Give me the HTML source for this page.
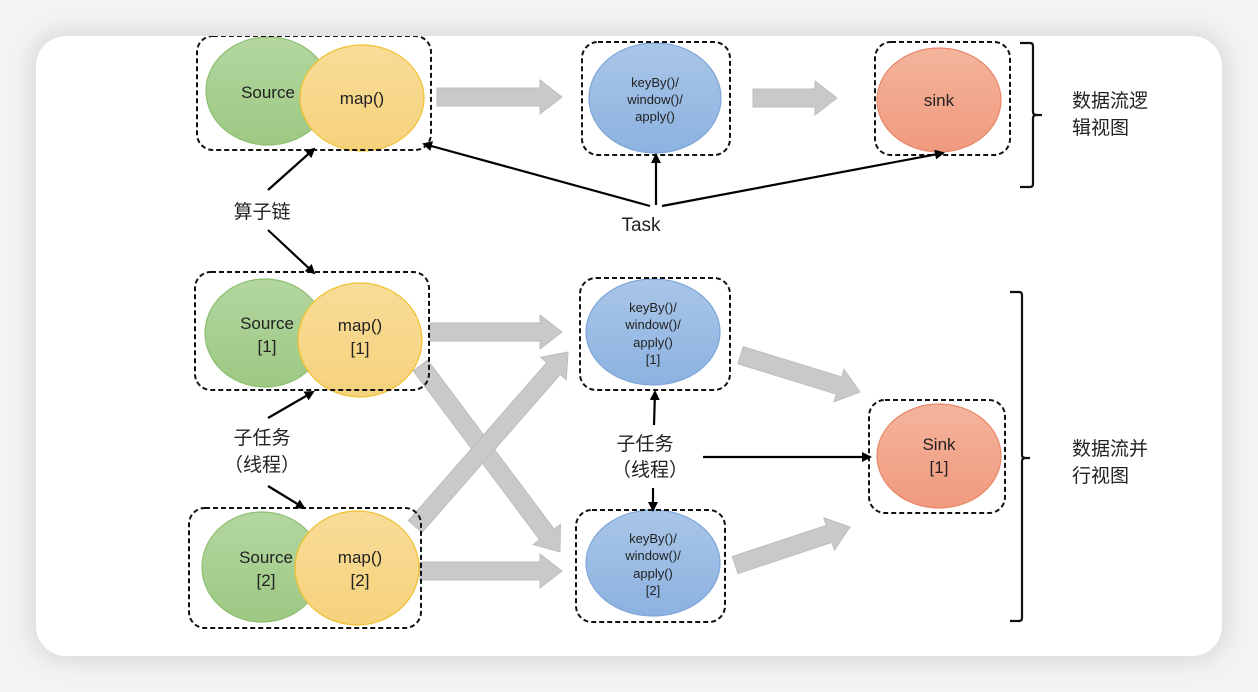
<!DOCTYPE html>
<html><head><meta charset="utf-8"><style>
html,body{margin:0;padding:0;width:1258px;height:692px;overflow:hidden;background:#f3f3f3;}
.card{position:absolute;left:36px;top:36px;width:1186px;height:620px;background:#fff;border-radius:30px;box-shadow:0 0 22px 6px rgba(0,0,0,0.10);}
svg{position:absolute;left:0;top:0;}
text{font-family:"Liberation Sans","Noto Sans CJK SC",sans-serif;fill:#222;}
</style></head><body>
<div class="card"></div>
<svg width="1258" height="692" viewBox="0 0 1258 692">
<defs>
<clipPath id="cc"><rect x="36" y="36" width="1186" height="620" rx="30"/></clipPath>
<linearGradient id="g" x1="0" y1="0" x2="0" y2="1"><stop offset="0" stop-color="#b3d7a0"/><stop offset="1" stop-color="#9dc883"/></linearGradient>
<linearGradient id="y" x1="0" y1="0" x2="0" y2="1"><stop offset="0" stop-color="#f8dc98"/><stop offset="1" stop-color="#f6d27c"/></linearGradient>
<linearGradient id="b" x1="0" y1="0" x2="0" y2="1"><stop offset="0" stop-color="#a9c6e8"/><stop offset="1" stop-color="#8cb2e0"/></linearGradient>
<linearGradient id="o" x1="0" y1="0" x2="0" y2="1"><stop offset="0" stop-color="#f4b49c"/><stop offset="1" stop-color="#f09a7e"/></linearGradient>
<marker id="ah" markerWidth="10" markerHeight="10" refX="8" refY="5" orient="auto" markerUnits="userSpaceOnUse"><path d="M0,0 L10,5 L0,10 Z" fill="#000"/></marker>
</defs>
<g clip-path="url(#cc)">
<g fill="#c9c9c9" stroke="#bdbdbd" stroke-width="1">
<g transform="translate(562,97)"><polygon points="0,0 -22,-17 -22,-9 -125,-9 -125,9 -22,9 -22,17"/></g>
<g transform="translate(837,98)"><polygon points="0,0 -22,-17 -22,-9 -84,-9 -84,9 -22,9 -22,17"/></g>
<g transform="translate(562,332)"><polygon points="0,0 -22,-17 -22,-9 -132,-9 -132,9 -22,9 -22,17"/></g>
<g transform="translate(562,571)"><polygon points="0,0 -22,-17 -22,-9 -142,-9 -142,9 -22,9 -22,17"/></g>
<g transform="translate(560,552) rotate(53.2)"><polygon points="0,0 -22,-17 -22,-9 -233,-9 -233,9 -22,9 -22,17"/></g>
<g transform="translate(568,352) rotate(-48.8)"><polygon points="0,0 -22,-17 -22,-9 -232,-9 -232,9 -22,9 -22,17"/></g>
<g transform="translate(860,392) rotate(17.1)"><polygon points="0,0 -22,-17 -22,-9 -125,-9 -125,9 -22,9 -22,17"/></g>
<g transform="translate(850,527) rotate(-18.3)"><polygon points="0,0 -22,-17 -22,-9 -121,-9 -121,9 -22,9 -22,17"/></g>
</g>
<g stroke-width="1.2">
<ellipse cx="268" cy="91" rx="62" ry="54" fill="url(#g)" stroke="#8cbf6f"/>
<ellipse cx="362" cy="98" rx="62" ry="53" fill="url(#y)" stroke="#f0c030"/>
<ellipse cx="655" cy="98" rx="66" ry="55" fill="url(#b)" stroke="#7ea6d8"/>
<ellipse cx="939" cy="100" rx="62" ry="52" fill="url(#o)" stroke="#e8876a"/>
<ellipse cx="265" cy="333" rx="60" ry="54" fill="url(#g)" stroke="#8cbf6f"/>
<ellipse cx="360" cy="340" rx="62" ry="57" fill="url(#y)" stroke="#f0c030"/>
<ellipse cx="262" cy="567" rx="60" ry="55" fill="url(#g)" stroke="#8cbf6f"/>
<ellipse cx="357" cy="568" rx="62" ry="57" fill="url(#y)" stroke="#f0c030"/>
<ellipse cx="653" cy="332" rx="67" ry="53" fill="url(#b)" stroke="#7ea6d8"/>
<ellipse cx="653" cy="563" rx="67" ry="53" fill="url(#b)" stroke="#7ea6d8"/>
<ellipse cx="939" cy="456" rx="62" ry="52" fill="url(#o)" stroke="#e8876a"/>
</g>
<g fill="none" stroke="#111" stroke-width="2" stroke-dasharray="5,3">
<rect x="197" y="36" width="234" height="114" rx="16"/>
<rect x="582" y="42" width="148" height="113" rx="16"/>
<rect x="875" y="42" width="135" height="113" rx="16"/>
<rect x="195" y="272" width="234" height="118" rx="16"/>
<rect x="189" y="508" width="232" height="120" rx="16"/>
<rect x="580" y="278" width="150" height="112" rx="16"/>
<rect x="576" y="510" width="149" height="112" rx="16"/>
<rect x="869" y="400" width="136" height="113" rx="16"/>
</g>
</g>
<g fill="none" stroke="#111" stroke-width="2.2">
<path d="M1020,43 H1030 Q1033,43 1033,46 V112 Q1033,115 1037,115 H1042 M1037,115 Q1033,115 1033,118 V184 Q1033,187 1030,187 H1020"/>
<path d="M1010,292 H1019 Q1022,292 1022,295 V455 Q1022,458 1026,458 H1030 M1026,458 Q1022,458 1022,461 V618 Q1022,621 1019,621 H1010"/>
</g>
<g stroke="#000" stroke-width="2.2" marker-end="url(#ah)">
<line x1="656" y1="205" x2="656" y2="155"/>
<line x1="650" y1="206" x2="424" y2="144"/>
<line x1="662" y1="206" x2="943" y2="153"/>
<line x1="268" y1="190" x2="314" y2="149"/>
<line x1="268" y1="230" x2="314" y2="273"/>
<line x1="268" y1="418" x2="313" y2="392"/>
<line x1="268" y1="486" x2="304" y2="508"/>
<line x1="654" y1="425" x2="655" y2="392"/>
<line x1="653" y1="488" x2="653" y2="510"/>
<line x1="703" y1="457" x2="870" y2="457"/>
</g>
<g font-size="17" text-anchor="middle">
<text x="268" y="98">Source</text>
<text x="362" y="104">map()</text>
<text x="939" y="106">sink</text>
<text x="267" y="329">Source</text>
<text x="267" y="352">[1]</text>
<text x="360" y="331">map()</text>
<text x="360" y="354">[1]</text>
<text x="266" y="563">Source</text>
<text x="266" y="586">[2]</text>
<text x="360" y="563">map()</text>
<text x="360" y="586">[2]</text>
<text x="939" y="450">Sink</text>
<text x="939" y="473">[1]</text>
</g>
<g font-size="13" text-anchor="middle">
<text x="655" y="87">keyBy()/</text>
<text x="655" y="104">window()/</text>
<text x="655" y="121">apply()</text>
<text x="653" y="312">keyBy()/</text>
<text x="653" y="329">window()/</text>
<text x="653" y="347">apply()</text>
<text x="653" y="364">[1]</text>
<text x="653" y="543">keyBy()/</text>
<text x="653" y="560">window()/</text>
<text x="653" y="578">apply()</text>
<text x="653" y="595">[2]</text>
</g>
<g font-size="19" text-anchor="middle">
<text x="641" y="231">Task</text>
<text x="262" y="218">算子链</text>
<text x="262" y="444">子任务</text>
<text x="262" y="471">（线程）</text>
<text x="645" y="450">子任务</text>
<text x="650" y="476">（线程）</text>
</g>
<g font-size="19">
<text x="1072" y="107">数据流逻</text>
<text x="1072" y="134">辑视图</text>
<text x="1072" y="455">数据流并</text>
<text x="1072" y="482">行视图</text>
</g>
</svg>
</body></html>
